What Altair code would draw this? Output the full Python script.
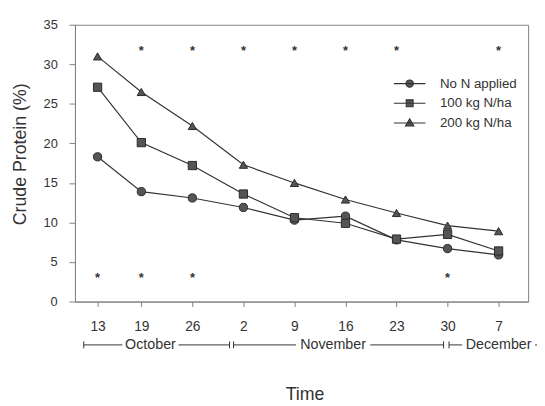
import altair as alt
import pandas as pd

# ---- data ----
dates = ["2000-10-13", "2000-10-19", "2000-10-26", "2000-11-02", "2000-11-09",
         "2000-11-16", "2000-11-23", "2000-11-30", "2000-12-07"]
tick_labels = ["13", "19", "26", "2", "9", "16", "23", "30", "7"]
series_names = ["No N applied", "100 kg N/ha", "200 kg N/ha"]
no_n = [18.3, 13.9, 13.1, 11.9, 10.3, 10.8, 7.8, 6.7, 5.9]
n100 = [27.1, 20.1, 17.2, 13.6, 10.6, 9.9, 7.9, 8.5, 6.4]
n200 = [31.0, 26.5, 22.2, 17.3, 15.0, 12.9, 11.2, 9.6, 8.9]
sig_top_dates = ["2000-10-19", "2000-10-26", "2000-11-02", "2000-11-09",
                 "2000-11-16", "2000-11-23", "2000-12-07"]
sig_top_value = 32.0
sig_bottom_dates = ["2000-10-13", "2000-10-19", "2000-10-26", "2000-11-30"]
sig_bottom_value = 3.4
months = ["October", "November", "December"]
month_start_day = [-1.9, 18.65, 48.2]
month_end_day = [18.1, 47.45, 62.0]
month_label_day = [7.25, 32.3, 55.0]
month_gap_halfwidth = [3.85, 5.1, 5.0]   # half width of the gap left for the label (days)

# ---- tables ----
t0 = pd.Timestamp(dates[0])
def day(d):
    return (pd.Timestamp(d) - t0).days

days = [day(d) for d in dates]
rows = []
for name, vals in zip(series_names, [no_n, n100, n200]):
    for d, v in zip(days, vals):
        rows.append({"day": d, "value": v, "series": name, "legend_series": name})
df = pd.DataFrame(rows)

stars = pd.DataFrame(
    [{"day": day(d), "value": sig_top_value} for d in sig_top_dates]
    + [{"day": day(d), "value": sig_bottom_value} for d in sig_bottom_dates]
)

seg_rows, cap_rows = [], []
for s, e, c, g in zip(month_start_day, month_end_day, month_label_day, month_gap_halfwidth):
    seg_rows.append({"a": s, "b": c - g})
    seg_rows.append({"a": c + g, "b": e})
    cap_rows.append({"cap": s})
    cap_rows.append({"cap": e})
segs = pd.DataFrame(seg_rows)
caps = pd.DataFrame(cap_rows)
mlabels = pd.DataFrame({"month": months, "day": month_label_day})

FONT = "Liberation Sans"
INK = "#333333"
FRAME = "#808080"

x_scale = alt.Scale(domain=[-3.1, 59.05], nice=False, zero=False)
y_scale = alt.Scale(domain=[0, 35], nice=False, zero=True)

label_expr = "[" + ",".join("'%s'" % t for t in tick_labels) + "][indexof([" + \
    ",".join(str(d) for d in days) + "], datum.value)]"

x_axis = alt.Axis(values=days, labelExpr=label_expr, grid=False, title="Time",
                  tickSize=5, labelPadding=13, labelFontSize=14, labelFont=FONT,
                  labelColor=INK, titleFont=FONT, titleFontSize=18,
                  titleFontWeight="normal", titleColor=INK, titleX=233, titleY=99,
                  titleAlign="center", titleBaseline="alphabetic",
                  domainColor=FRAME, tickColor=FRAME)
y_axis = alt.Axis(values=[0, 5, 10, 15, 20, 25, 30, 35], grid=False,
                  title="Crude Protein (%)", tickSize=6, labelPadding=12,
                  labelFontSize=13, labelFont=FONT, labelColor=INK,
                  titleFont=FONT, titleFontSize=18, titleFontWeight="normal",
                  titleColor=INK, titleX=-55, titleY=131, titleAngle=270,
                  titleAlign="center", titleBaseline="middle",
                  domainColor=FRAME, tickColor=FRAME)

lines = alt.Chart(df).mark_line(color=INK, strokeWidth=1.2).encode(
    x=alt.X("day:Q", scale=x_scale, axis=x_axis),
    y=alt.Y("value:Q", scale=y_scale, axis=y_axis),
    detail="series:N",
)

points = alt.Chart(df).mark_point(filled=True, fill="#555555", stroke="#2a2a2a",
                                  strokeWidth=1, opacity=1, size=70).encode(
    x=alt.X("day:Q", scale=x_scale),
    y=alt.Y("value:Q", scale=y_scale),
    shape=alt.Shape("series:N",
                    scale=alt.Scale(domain=series_names,
                                    range=["circle", "square", "triangle-up"]),
                    legend=None),
)

# legend glyphs: a short line with the marker in its middle (unit = 5 px)
legend_paths = [
    "M-3.2,0H3.2M-0.75,0A0.75,0.75 0 1,0 0.75,0A0.75,0.75 0 1,0 -0.75,0Z",
    "M-3.2,0H3.2M-0.7,-0.7H0.7V0.7H-0.7Z",
    "M-3.2,0H3.2M0,-0.85L0.85,0.6L-0.85,0.6Z",
]
legend_layer = alt.Chart(df).transform_filter("false").mark_point(
    filled=True, fill="#555555", stroke=INK, strokeWidth=1.1, opacity=1).encode(
    x=alt.X("day:Q", scale=x_scale),
    y=alt.Y("value:Q", scale=y_scale),
    shape=alt.Shape("legend_series:N",
                    scale=alt.Scale(domain=series_names, range=legend_paths),
                    legend=alt.Legend(title=None, orient="none", legendX=333,
                                      legendY=53, symbolSize=100, labelOffset=24,
                                      labelFontSize=13.5, labelFont=FONT,
                                      labelColor=INK, padding=0, rowPadding=5,
                                      symbolStrokeWidth=1.1)),
)

star_layer = alt.Chart(stars).mark_text(text="*", fontSize=13, fontWeight="bold",
                                        dy=3, color=INK, font=FONT).encode(
    x=alt.X("day:Q", scale=x_scale),
    y=alt.Y("value:Q", scale=y_scale),
)

seg_layer = alt.Chart(segs).mark_rule(color=INK, strokeWidth=1).encode(
    x=alt.X("a:Q", scale=x_scale), x2="b:Q", y=alt.value(325))
cap_layer = alt.Chart(caps).mark_rule(color=INK, strokeWidth=1).encode(
    x=alt.X("cap:Q", scale=x_scale), y=alt.value(321.5), y2=alt.value(328.5))
month_layer = alt.Chart(mlabels).mark_text(fontSize=14.5, font=FONT, color=INK,
                                           baseline="middle").encode(
    x=alt.X("day:Q", scale=x_scale), y=alt.value(325), text="month:N")

chart = alt.layer(lines, points, legend_layer, star_layer, seg_layer, cap_layer,
                  month_layer).resolve_scale(shape="independent").properties(
    width=460, height=281,
    autosize=alt.AutoSizeParams(type="none"),
    padding={"left": 68, "top": 14, "right": 9, "bottom": 103},
).configure_view(stroke=FRAME, strokeWidth=1)

chart.save("out.html", embed_options={"renderer": "svg", "actions": False})
